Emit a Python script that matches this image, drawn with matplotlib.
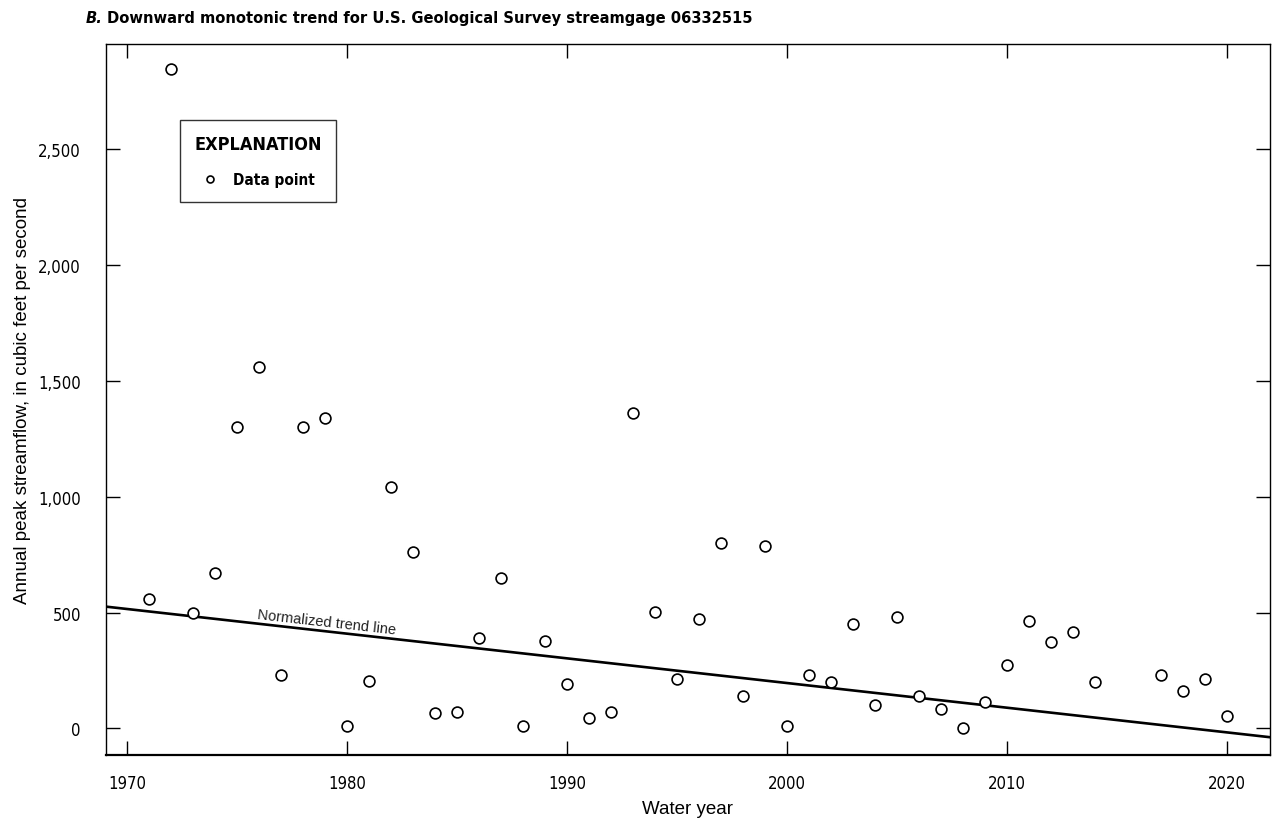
import matplotlib
matplotlib.use("Agg")
import matplotlib.pyplot as plt
from matplotlib import font_manager
from matplotlib.lines import Line2D

# Datos (caudal pico anual, pies cubicos por segundo)
years = [1971, 1972, 1973, 1974, 1975, 1976, 1977, 1978, 1979, 1980,
         1981, 1982, 1983, 1984, 1985, 1986, 1987, 1988, 1989, 1990,
         1991, 1992, 1993, 1994, 1995, 1996, 1997, 1998, 1999, 2000,
         2001, 2002, 2003, 2004, 2005, 2006, 2007, 2008, 2009, 2010,
         2011, 2012, 2013, 2014, 2017, 2018, 2019, 2020]
peak_flow = [560, 2845, 500, 672, 1300, 1560, 229, 1300, 1340, 9,
             204, 1040, 760, 65, 70, 390, 650, 11, 376, 190,
             43, 69, 1360, 501, 213, 471, 800, 139, 786, 9,
             230, 201, 450, 101, 481, 139, 85, 1, 115, 273,
             465, 371, 416, 200, 229, 160, 214, 54]

# Linea de tendencia normalizada
trend_years = [1969, 2022]
trend_values = [526, -39]

x_ticks = [1970, 1980, 1990, 2000, 2010, 2020]
y_ticks = [0, 500, 1000, 1500, 2000, 2500]
y_tick_labels = ["0", "500", "1,000", "1,500", "2,000", "2,500"]


def cond(size, weight="normal"):
    return font_manager.FontProperties(family="DejaVu Sans", stretch="condensed",
                                       weight=weight, size=size)


regular = ["Liberation Sans", "DejaVu Sans"]

fig = plt.figure(figsize=(12.75, 8.2), dpi=100)
ax = fig.add_axes([0.0831, 0.0784, 0.913, 0.867])

ax.plot(trend_years, trend_values, color="black", lw=1.9, zorder=2)
ax.plot(years, peak_flow, linestyle="none", marker="o", markersize=7.8,
        markerfacecolor="white", markeredgecolor="black", markeredgewidth=1.2,
        zorder=3)

ax.set_xlim(1969.05, 2021.95)
ax.set_ylim(-114, 2956)
ax.set_xticks(x_ticks)
ax.set_xticklabels([str(y) for y in x_ticks], fontproperties=cond(12))
ax.set_yticks(y_ticks)
ax.set_yticklabels(y_tick_labels, fontproperties=cond(12))
ax.tick_params(axis="both", direction="in", length=10, width=1.0,
               top=True, right=True)
ax.tick_params(axis="y", pad=18)
ax.tick_params(axis="x", pad=14)
for sp in ax.spines.values():
    sp.set_linewidth(1.0)
ax.spines["bottom"].set_linewidth(1.6)

ax.set_xlabel("Water year", family=regular, fontsize=13.5, labelpad=6)
ax.set_ylabel("Annual peak streamflow, in cubic feet per second",
              family=regular, fontsize=13.5, labelpad=5)

# etiqueta de la tendencia
ax.text(1975.9, 476, "Normalized trend line", family=regular, fontsize=10.5,
        rotation=-6.4, rotation_mode="anchor", ha="left", va="baseline",
        color="#222222")

# titulo
fig.text(0.0675, 0.977, "B.", fontproperties=cond(11.8, "bold"), style="italic",
         ha="left", va="center")
fig.text(0.0838, 0.977, "Downward monotonic trend for U.S. Geological Survey streamgage 06332515",
         fontproperties=cond(11.8, "bold"), ha="left", va="center")

# explicacion
handle = Line2D([], [], linestyle="none", marker="o", markersize=5,
                markerfacecolor="white", markeredgecolor="black",
                markeredgewidth=1.2)
leg = ax.legend([handle], ["Data point"], loc="upper left",
                bbox_to_anchor=(0.0567, 0.9034), title="EXPLANATION",
                frameon=True, fancybox=False, borderpad=0.95,
                handletextpad=0.9, handlelength=1.2,
                prop=cond(11, "bold"))
leg.get_title().set_fontproperties(cond(13, "bold"))
leg.get_frame().set_edgecolor("black")
leg.get_frame().set_linewidth(1.0)
leg._legend_box.sep = 14

fig.savefig("out.png", dpi=100)
